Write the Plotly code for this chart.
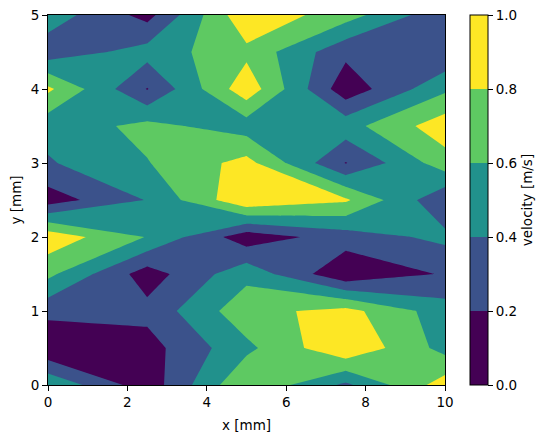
import plotly.graph_objects as go

# grid coordinates (mm)
x_mm = [0.0, 2.5, 5.0, 7.5, 10.0]
y_mm = [0.0, 0.5, 1.0, 1.5, 2.0, 2.5, 3.0, 3.5, 4.0, 4.5, 5.0]

# velocity [m/s], one row per y value (bottom to top)
v_y00 = [0.57, 0.08, 0.79, 0.36, 0.90]
v_y05 = [0.02, 0.12, 0.55, 0.98, 0.53]
v_y10 = [0.26, 0.26, 0.73, 0.87, 0.49]
v_y15 = [0.65, 0.10, 0.54, 0.03, 0.22]
v_y20 = [0.93, 0.59, 0.08, 0.30, 0.45]
v_y25 = [0.10, 0.41, 0.97, 0.83, 0.23]
v_y30 = [0.38, 0.59, 0.87, 0.19, 0.71]
v_y35 = [0.47, 0.66, 0.50, 0.52, 0.92]
v_y40 = [0.84, 0.19, 0.93, 0.07, 0.56]
v_y45 = [0.28, 0.48, 0.75, 0.25, 0.22]
v_y50 = [0.51, 0.13, 0.96, 0.69, 0.25]

z = [v_y00, v_y05, v_y10, v_y15, v_y20, v_y25, v_y30, v_y35, v_y40, v_y45, v_y50]

levels = [0.0, 0.2, 0.4, 0.6, 0.8, 1.0]
level_labels = ["0.0", "0.2", "0.4", "0.6", "0.8", "1.0"]
level_colors = ["#440154", "#3b528b", "#21918c", "#5ec962", "#fde725"]

# colorscale for the contour fill (plotly evaluates band colours off-centre)
fill_breaks = [0.0, 0.25, 0.4167, 0.5833, 0.75, 1.0]
fill_scale = []
for i, c in enumerate(level_colors):
    fill_scale.append([fill_breaks[i], c])
    fill_scale.append([fill_breaks[i + 1], c])

# stepped colorscale for the colour bar (levels 0..1)
bar_scale = []
for i, c in enumerate(level_colors):
    bar_scale.append([levels[i], c])
    bar_scale.append([levels[i + 1], c])

FONT = "DejaVu Sans"
FS = 13.5

# page has an 8px body margin; plot area should sit at x 48..445, y 15..385
L, T = 40, 7
PW, PH = 397, 370
W, H = 549, 438

fig = go.Figure()
fig.add_trace(
    go.Contour(
        x=x_mm,
        y=y_mm,
        z=z,
        contours=dict(start=levels[0], end=levels[-1], size=0.2, coloring="fill", showlines=False),
        line=dict(width=0, smoothing=0),
        colorscale=fill_scale,
        showscale=False,
        hoverinfo="skip",
    )
)

fig.add_trace(
    go.Scatter(
        x=[None],
        y=[None],
        mode="markers",
        showlegend=False,
        hoverinfo="skip",
        marker=dict(
            color=[levels[0]],
            cmin=levels[0],
            cmax=levels[-1],
            colorscale=bar_scale,
            showscale=True,
            colorbar=dict(
                title=dict(text="velocity [m/s]", side="right",
                           font=dict(family=FONT, size=FS, color="black")),
                thickness=18,
                thicknessmode="pixels",
                len=1.0,
                lenmode="fraction",
                x=(462 - L) / PW,
                xanchor="left",
                xpad=0,
                y=0.5,
                yanchor="middle",
                ypad=0,
                outlinecolor="black",
                outlinewidth=1,
                ticks="outside",
                ticklen=5,
                tickwidth=1,
                tickcolor="black",
                tickvals=levels,
                ticktext=level_labels,
                ticklabeloverflow="allow",
                tickfont=dict(family=FONT, size=FS, color="black"),
            ),
        ),
    )
)

axis_common = dict(
    showgrid=False,
    zeroline=False,
    showline=True,
    linecolor="black",
    linewidth=1,
    mirror=True,
    ticks="outside",
    ticklen=5,
    tickwidth=1,
    tickcolor="black",
    ticklabeloverflow="allow",
    tickfont=dict(family=FONT, size=FS, color="black"),
)

fig.update_layout(
    width=W,
    height=H,
    margin=dict(l=L, r=W - L - PW, t=T, b=H - T - PH, autoexpand=False),
    paper_bgcolor="white",
    plot_bgcolor="white",
    showlegend=False,
    font=dict(family=FONT, size=FS, color="black"),
    xaxis=dict(
        range=[0, 10],
        tickvals=[0, 2, 4, 6, 8, 10],
        title=dict(text="x [mm]", font=dict(family=FONT, size=FS, color="black"), standoff=11),
        **axis_common,
    ),
    yaxis=dict(
        range=[0, 5],
        tickvals=[0, 1, 2, 3, 4, 5],
        title=dict(text="y [mm]", font=dict(family=FONT, size=FS, color="black"), standoff=6),
        **axis_common,
    ),
)

fig.write_html("out.html")
